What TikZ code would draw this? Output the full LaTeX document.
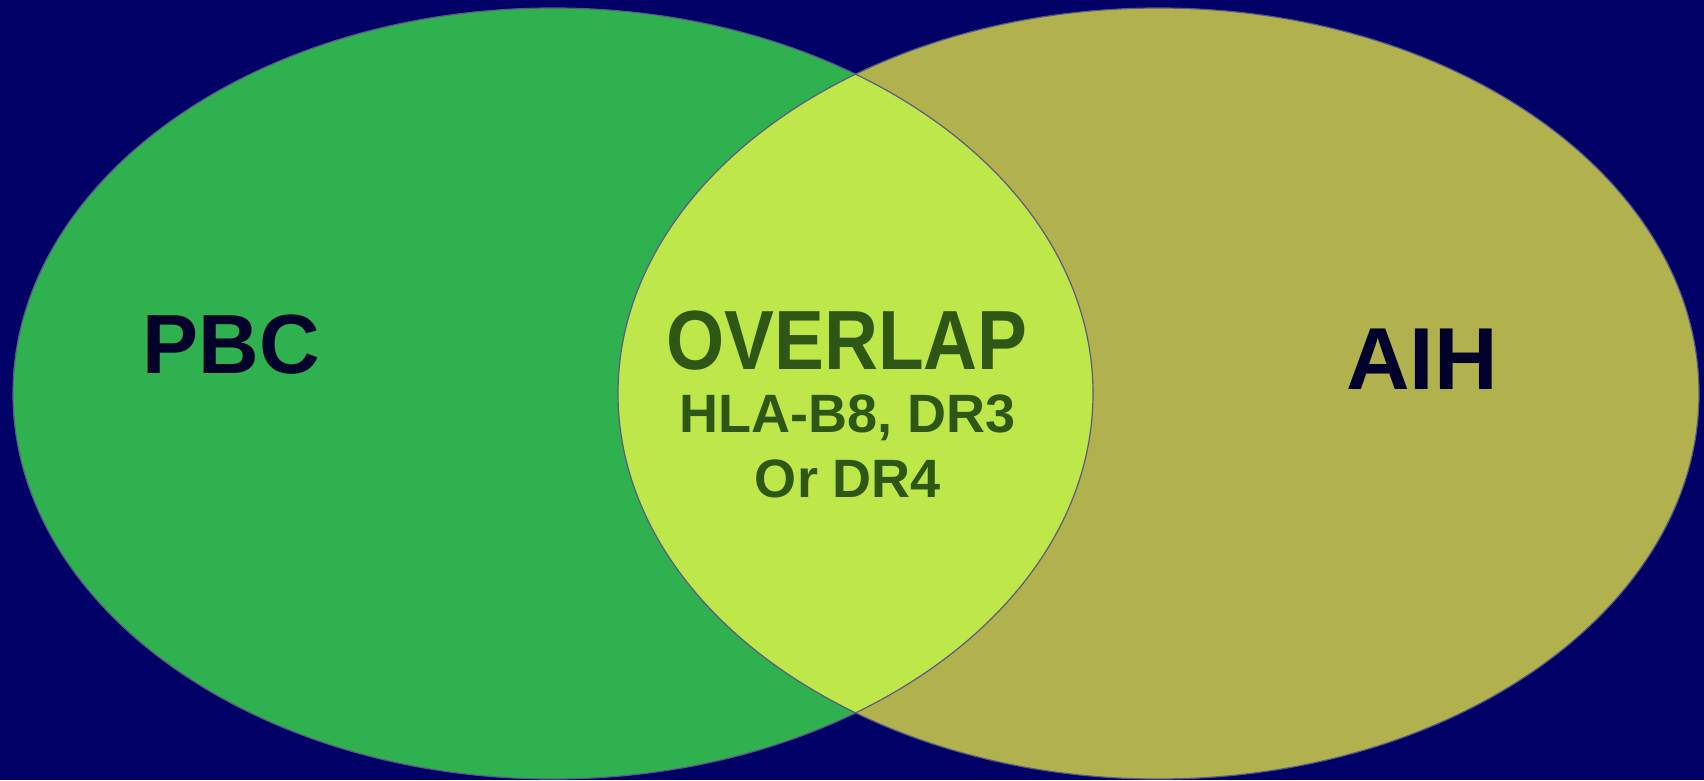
\documentclass[tikz,border=0pt]{standalone}
\usepackage{fontspec}
\setmainfont{Liberation Sans}
\newfontfamily\narrowsans[FakeStretch=0.89]{Liberation Sans}
\definecolor{bgnavy}{HTML}{000066}
\definecolor{pbcgreen}{HTML}{2EB14E}
\definecolor{aiholive}{HTML}{B1B14E}
\definecolor{overlapc}{HTML}{BEE84A}
\definecolor{darktext}{HTML}{00002A}
\definecolor{greentext}{HTML}{2E5716}
\definecolor{edgec}{HTML}{5A5A86}
\tikzset{
  bigname/.style={anchor=base, text=darktext, font=\bfseries\fontsize{84}{84}\selectfont, inner sep=0pt},
  ovtitle/.style={anchor=base, text=greentext, font=\narrowsans\bfseries\fontsize{84}{84}\selectfont, inner sep=0pt},
  ovsub/.style={anchor=base, text=greentext, font=\bfseries\fontsize{54}{54}\selectfont, inner sep=0pt},
  outline/.style={draw=edgec, line width=1.2pt}
}
\begin{document}
\begin{tikzpicture}[x=1pt,y=-1pt]
\useasboundingbox (0,0) rectangle (1704,780);
\fill[bgnavy] (0,0) rectangle (1704,780);
% left (PBC) ellipse
\fill[pbcgreen] (553,393.5) ellipse [x radius=540pt, y radius=385.5pt];
% right (AIH) ellipse
\fill[aiholive] (1158.5,393.5) ellipse [x radius=540.5pt, y radius=385.5pt];
% overlap
\begin{scope}
  \clip (553,393.5) ellipse [x radius=540pt, y radius=385.5pt];
  \fill[overlapc] (1158.5,393.5) ellipse [x radius=540.5pt, y radius=385.5pt];
\end{scope}
\draw[outline] (553,393.5) ellipse [x radius=540pt, y radius=385.5pt];
\draw[outline] (1158.5,393.5) ellipse [x radius=540.5pt, y radius=385.5pt];
% labels
\node[bigname] (pbc) at (231,373.5) {PBC};
\node[bigname, font=\bfseries\fontsize{88}{88}\selectfont] (aih) at (1422,389.5) {AIH};
\node[ovtitle] (ov) at (847,369.5) {OVERLAP};
\node[ovsub] (hla) at (848,432.5) {HLA-B8, DR3};
\node[ovsub] (ordr) at (848,497.5) {Or DR4};
\end{tikzpicture}
\end{document}
